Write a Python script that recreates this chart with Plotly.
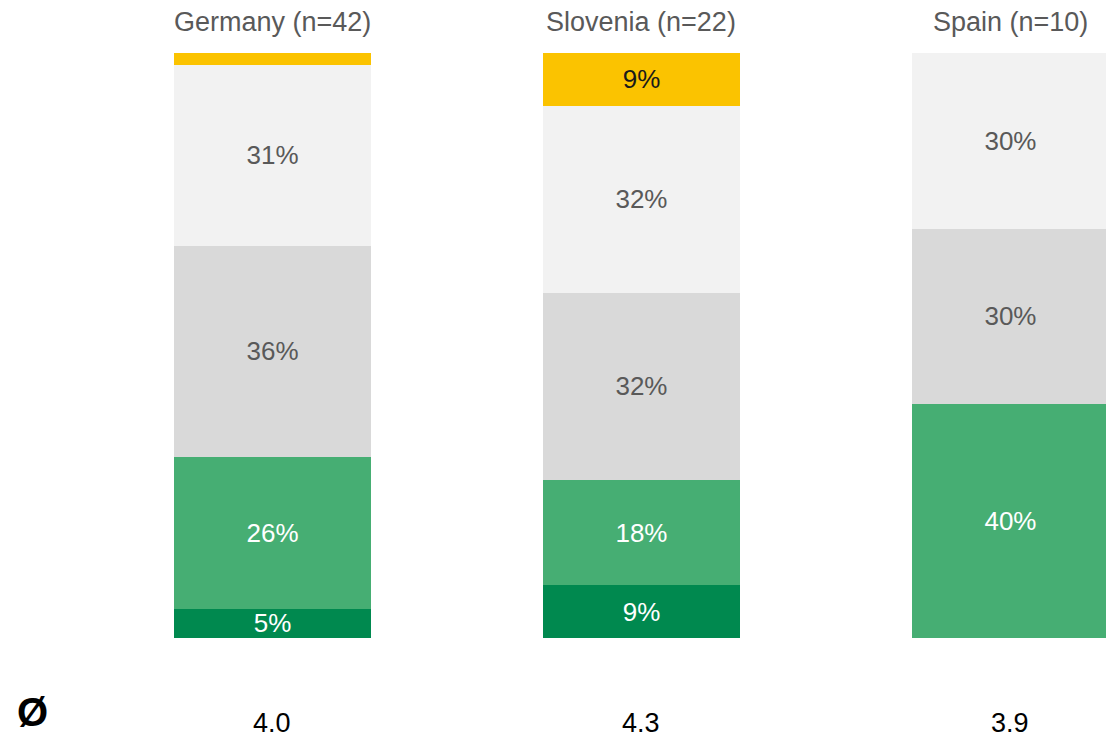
import plotly.graph_objects as go

# Countries and sample sizes
countries = ["Germany", "Slovenia", "Spain"]
sample_sizes = [42, 22, 10]
averages = ["4.0", "4.3", "3.9"]

# Shares per response level (%), stacked from bottom to top
level_1 = [5, 9, 0]     # dark green
level_2 = [26, 18, 40]  # green
level_3 = [36, 32, 30]  # mid grey
level_4 = [31, 32, 30]  # light grey
level_5 = [2, 9, 0]     # yellow

segments = [
    ("level_1", level_1, "#00894F", "#FFFFFF"),
    ("level_2", level_2, "#46AE73", "#FFFFFF"),
    ("level_3", level_3, "#D9D9D9", "#595959"),
    ("level_4", level_4, "#F2F2F2", "#595959"),
    ("level_5", level_5, "#FBC300", "#1A1A1A"),
]

x_pos = list(range(len(countries)))
BAR_WIDTH = 0.534
MIN_LABEL = 3  # segments smaller than this stay unlabeled
FONT = "Liberation Sans, Arial, sans-serif"

fig = go.Figure()
for name, vals, color, txtcolor in segments:
    fig.add_trace(go.Bar(
        x=x_pos,
        y=vals,
        name=name,
        width=BAR_WIDTH,
        marker=dict(color=color, line=dict(width=0)),
        text=[f"{v}%" if v >= MIN_LABEL else "" for v in vals],
        textposition="inside",
        insidetextanchor="middle",
        constraintext="none",
        textfont=dict(family=FONT, size=26, color=txtcolor),
        hoverinfo="skip",
    ))

# Column titles above the bars
for xi, c, n in zip(x_pos, countries, sample_sizes):
    fig.add_annotation(
        x=xi, xref="x", y=105.3, yref="y", yanchor="middle",
        text=f"{c} (n={n})", showarrow=False,
        font=dict(family=FONT, size=27, color="#595959"),
    )

# Average row below the bars
for xi, a in zip(x_pos, averages):
    fig.add_annotation(
        x=xi, xref="x", y=-14.5, yref="y", yanchor="middle",
        text=a, showarrow=False,
        font=dict(family=FONT, size=27, color="#000000"),
    )
fig.add_annotation(
    x=32 / 1106, xref="paper", y=-12.7, yref="y", yanchor="middle", xanchor="center",
    text="<b>Ø</b>", showarrow=False,
    font=dict(family=FONT, size=40, color="#000000"),
)

fig.update_layout(
    barmode="stack",
    width=1106, height=738,
    margin=dict(l=0, r=0, t=0, b=0),
    paper_bgcolor="white", plot_bgcolor="white",
    showlegend=False,
    xaxis=dict(range=[-0.7385, 2.259], visible=False, fixedrange=True),
    yaxis=dict(range=[-17.09, 109.06], visible=False, fixedrange=True),
)

fig.write_html("out.html")
